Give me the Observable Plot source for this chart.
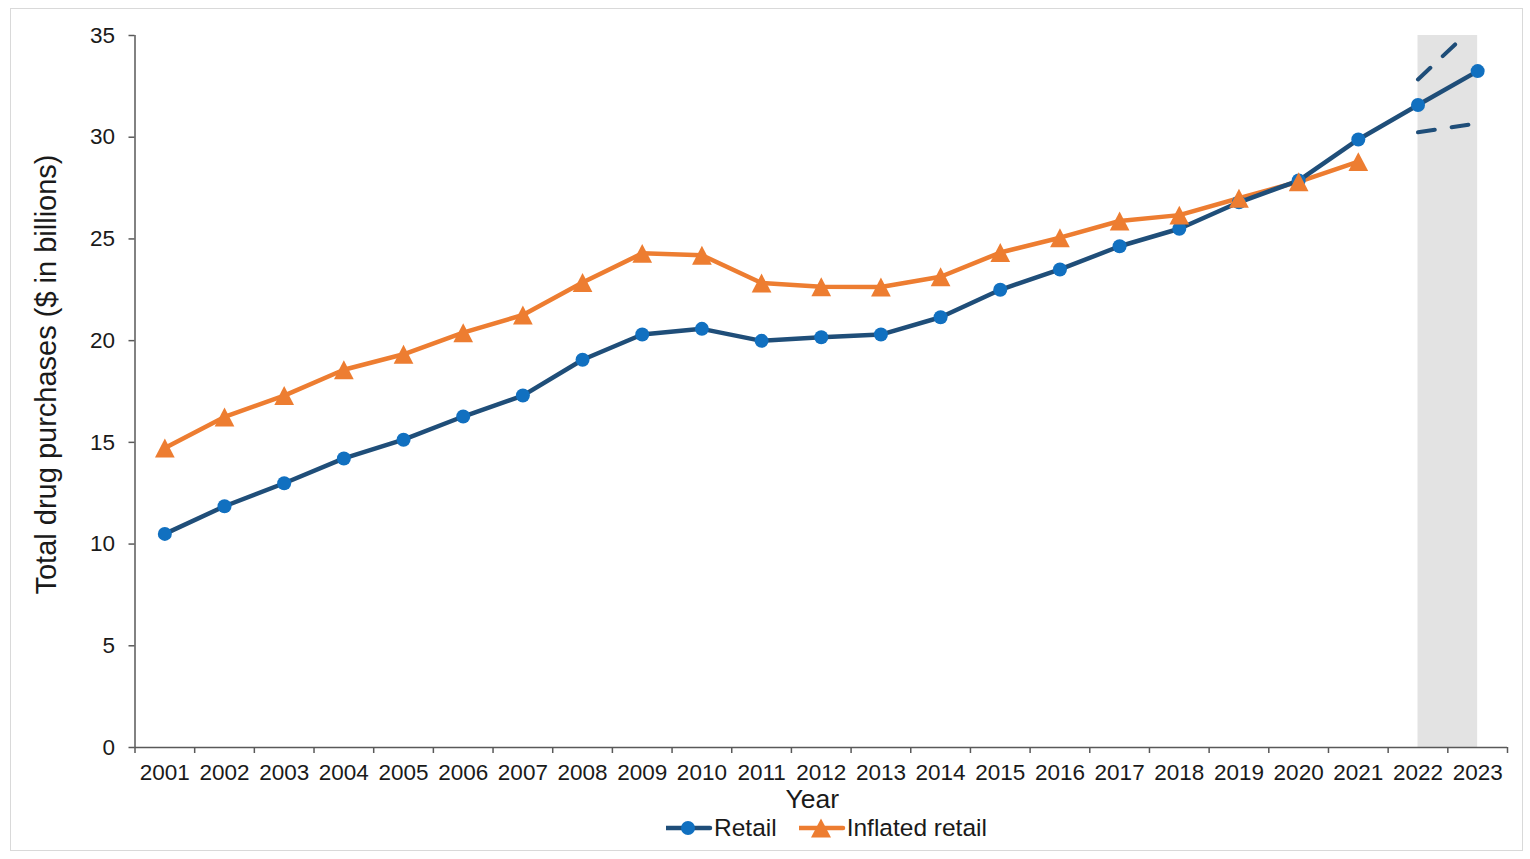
<!DOCTYPE html>
<html><head><meta charset="utf-8">
<script src="https://cdn.jsdelivr.net/npm/d3@7"></script>
<script src="https://cdn.jsdelivr.net/npm/@observablehq/plot@0.6"></script>
<style>
body{margin:0;background:#fff;font-family:"Liberation Sans",Arial,sans-serif;}
#wrap{position:relative;width:1530px;height:859px;overflow:hidden;}
#frame{position:absolute;left:10px;top:8px;width:1513px;height:843px;border:1.5px solid #d9d9d9;box-sizing:border-box;}
#chart{position:absolute;left:0;top:0;}
#legend{position:absolute;left:666px;top:812px;height:32px;display:flex;align-items:center;font-size:24.5px;color:#1a1a1a;white-space:nowrap;}
#legend .item{display:flex;align-items:center;}
#legend svg{display:block;}
</style>
</head><body>
<div id="wrap"><div id="frame"></div><div id="chart"></div><div id="legend"></div></div>
<script>
const years = [2001,2002,2003,2004,2005,2006,2007,2008,2009,2010,2011,2012,2013,2014,2015,2016,2017,2018,2019,2020,2021,2022,2023];
const retail = [10.5,11.86,12.99,14.21,15.13,16.27,17.3,19.06,20.3,20.58,19.99,20.17,20.3,21.15,22.5,23.5,24.64,25.5,26.8,27.87,29.89,31.58,33.25];
const inflatedYears = [2001,2002,2003,2004,2005,2006,2007,2008,2009,2010,2011,2012,2013,2014,2015,2016,2017,2018,2019,2020,2021];
const inflated = [14.72,16.25,17.3,18.57,19.33,20.39,21.26,22.86,24.29,24.2,22.83,22.65,22.64,23.14,24.33,25.06,25.88,26.17,27.0,27.81,28.8];
const boundYears = [2022,2023];
const upperBound = [32.84,35.6];
const lowerBound = [30.24,30.68];
const forecastStart = 2022, forecastEnd = 2023;
const yTicks = [0,5,10,15,20,25,30,35];
const seriesNames = ["Retail","Inflated retail"];
const yLabel = "Total drug purchases ($ in billions)";
const xLabel = "Year";

const retailData = years.map((y,i)=>({year:y, value:retail[i]}));
const inflatedData = inflatedYears.map((y,i)=>({year:y, value:inflated[i]}));
const upperData = boundYears.map((y,i)=>({year:y, value:upperBound[i]}));
const lowerData = boundYears.map((y,i)=>({year:y, value:lowerBound[i]}));
const boundaries = [...years.map(y=>y-0.5), years[years.length-1]+0.5];

const C_LINE = "#1F4E79", C_DOT = "#1170C0", C_ORANGE = "#ED7D31", C_AXIS = "#595959", C_TEXT="#1a1a1a";

const tri = {draw(ctx, size){ const s = Math.sqrt(size/Math.PI); const w = 1.35*s, h = 1.3*s;
  ctx.moveTo(0,-h); ctx.lineTo(w,h); ctx.lineTo(-w,h); ctx.closePath(); }};

const chart = Plot.plot({
  width:1530, height:815,
  marginLeft:134.5, marginRight:23, marginTop:35, marginBottom:68,
  style:{fontFamily:'"Liberation Sans", Arial, sans-serif', color:C_TEXT, background:"transparent"},
  x:{type:"linear", domain:[years[0]-0.5, years[years.length-1]+0.5]},
  y:{type:"linear", domain:[0,35]},
  marks:[
    Plot.rect([{x1:forecastStart,x2:forecastEnd}], {x1:"x1", x2:"x2", y1:0, y2:35, fill:"#e3e3e3"}),
    Plot.ruleY([0], {stroke:C_AXIS, strokeWidth:1.5}),
    Plot.ruleX([years[0]-0.5], {stroke:C_AXIS, strokeWidth:1.5}),
    Plot.axisX(boundaries, {tickSize:6, tickFormat:()=>"", stroke:C_AXIS, strokeWidth:1.5, label:null}),
    Plot.axisX(years, {tickSize:0, tickPadding:17, tickFormat:d=>String(d), fontSize:22.5, fill:C_TEXT, label:null}),
    Plot.axisY(yTicks, {tickSize:6, tickPadding:14, fontSize:22.5, fill:C_TEXT, stroke:C_AXIS, strokeWidth:1.5, label:null}),
    Plot.text([xLabel], {text:d=>d, frameAnchor:"bottom", lineAnchor:"middle", dy:52, dx:-9, fontSize:26.5, fill:C_TEXT}),
    Plot.text([yLabel], {text:d=>d, frameAnchor:"left", textAnchor:"middle", lineAnchor:"middle", rotate:-90, dx:-88, dy:-17, fontSize:29, fill:C_TEXT}),
    Plot.line(upperData, {x:"year", y:"value", stroke:C_LINE, strokeWidth:4, strokeDasharray:"17,17", clip:true}),
    Plot.line(lowerData, {x:"year", y:"value", stroke:C_LINE, strokeWidth:4, strokeDasharray:"17,17"}),
    Plot.line(inflatedData, {x:"year", y:"value", stroke:C_ORANGE, strokeWidth:4.5}),
    Plot.line(retailData, {x:"year", y:"value", stroke:C_LINE, strokeWidth:4.5}),
    Plot.dot(retailData, {x:"year", y:"value", r:7, fill:C_DOT, stroke:"none"}),
    Plot.dot(inflatedData, {x:"year", y:"value", r:7.3, symbol:tri, fill:C_ORANGE, stroke:"none"})
  ]
});
document.getElementById("chart").appendChild(chart);

// legend
const legend = document.getElementById("legend");
function swatch(kind){
  const ns="http://www.w3.org/2000/svg";
  const svg=document.createElementNS(ns,"svg"); svg.setAttribute("width","48"); svg.setAttribute("height","24");
  const line=document.createElementNS(ns,"line");
  line.setAttribute("x1","0"); line.setAttribute("x2","44"); line.setAttribute("y1","12"); line.setAttribute("y2","12");
  line.setAttribute("stroke", kind===0?C_LINE:C_ORANGE); line.setAttribute("stroke-width","4.5"); line.setAttribute("stroke-linecap","round");
  svg.appendChild(line);
  if(kind===0){ const c=document.createElementNS(ns,"circle"); c.setAttribute("cx","22"); c.setAttribute("cy","12"); c.setAttribute("r","7"); c.setAttribute("fill",C_DOT); svg.appendChild(c);}
  else { const p=document.createElementNS(ns,"path"); p.setAttribute("d","M22,2.5L32,21.5L12,21.5Z"); p.setAttribute("fill",C_ORANGE); svg.appendChild(p);}
  return svg;
}
seriesNames.forEach((name,i)=>{
  const it=document.createElement("div"); it.className="item";
  if(i>0) it.style.marginLeft="22px";
  it.appendChild(swatch(i));
  const t=document.createElement("span"); t.textContent=name; it.appendChild(t);
  legend.appendChild(it);
});
</script>
</body></html>
